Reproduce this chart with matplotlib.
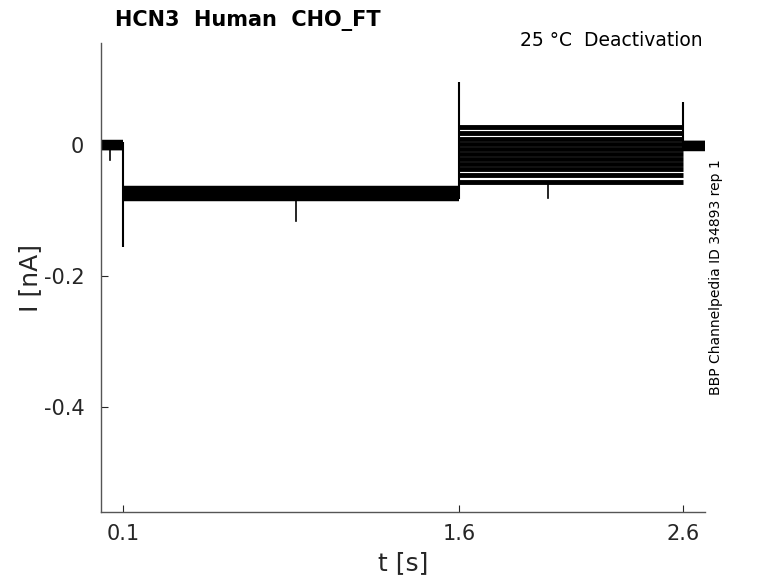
import matplotlib
matplotlib.use('Agg')
import matplotlib.pyplot as plt
import numpy as np

# step times of the protocol, s
t_on = 0.1
t_tail = 1.6
t_off = 2.6
t_end = 2.7

# per-sweep current levels, nA
hold_pre = [0.004, -0.003, 0.0, 0.005, -0.005, 0.002, -0.001, 0.003, -0.004, 0.0, 0.001]
act_level = [-0.065, -0.068, -0.071, -0.074, -0.077, -0.080, -0.070, -0.073, -0.076, -0.079, -0.082]
tail_level = [0.027, 0.018, 0.010, 0.002, -0.006, -0.013, -0.021, -0.029, -0.037, -0.046, -0.056]
hold_post = [0.003, -0.002, 0.001, -0.005, 0.004, -0.001, -0.006, 0.0, -0.003, 0.002, -0.004]

# capacitive transients (one per step), nA
spike_on = -0.156
spike_tail = 0.096
spike_off = 0.066

# isolated glitches: (time s, current nA)
glitch_t = [0.04, 0.87, 2.0]
glitch_i = [-0.023, -0.115, -0.080]

fig = plt.figure(figsize=(7.78, 5.83), dpi=100)
ax = fig.add_axes([101 / 778, 71 / 583, 604 / 778, 469 / 583])

# flat parts of every sweep
ax.hlines(hold_pre, 0, t_on, color='k', lw=3.2, capstyle='butt')
ax.hlines(act_level, t_on, t_tail, color='k', lw=3.2, capstyle='butt')
ax.hlines(tail_level, t_tail, t_off, color='k', lw=3.5, capstyle='butt')
ax.hlines(hold_post, t_off, t_end, color='k', lw=3.2, capstyle='butt')

# voltage steps with their transients
ax.vlines(t_on, spike_on, max(hold_pre), color='k', lw=1.5)
ax.vlines(t_tail, min(act_level), spike_tail, color='k', lw=1.5)
ax.vlines(t_off, min(hold_post), spike_off, color='k', lw=1.5)

base = [0.0, -0.075, -0.06]
for gt, gi, b in zip(glitch_t, glitch_i, base):
    ax.plot([gt, gt], [b, gi], color='k', lw=1.2)

ax.set_xlim(0, 2.7)
ax.set_ylim(-0.56, 0.156)
ax.set_xticks([0.1, 1.6, 2.6])
ax.set_xticklabels(['0.1', '1.6', '2.6'])
ax.set_yticks([-0.4, -0.2, 0])
ax.set_yticklabels(['-0.4', '-0.2', '0'])
ax.tick_params(direction='in', length=5, width=0.8, colors='#262626',
               labelsize=15)
ax.tick_params(axis='x', pad=9)
ax.tick_params(axis='y', pad=12)
for s in ['top', 'right']:
    ax.spines[s].set_visible(False)
for s in ['left', 'bottom']:
    ax.spines[s].set_color('#555555')
    ax.spines[s].set_linewidth(1.0)

ax.set_xlabel('t [s]', fontsize=18, color='#262626', labelpad=5)
ax.set_ylabel('I [nA]', fontsize=18, color='#262626', labelpad=1)

fig.text(115 / 778, 1 - 10 / 583, 'HCN3  Human  CHO_FT', fontsize=15,
         fontweight='bold', ha='left', va='top')
fig.text(703 / 778, 1 - 41 / 583, '25 °C  Deactivation', fontsize=13.5,
         ha='right', va='center')
fig.text(716 / 778, 1 - 277 / 583, 'BBP Channelpedia ID 34893 rep 1',
         fontsize=10, rotation=90, ha='center', va='center')

fig.savefig('out.png', dpi=100)
